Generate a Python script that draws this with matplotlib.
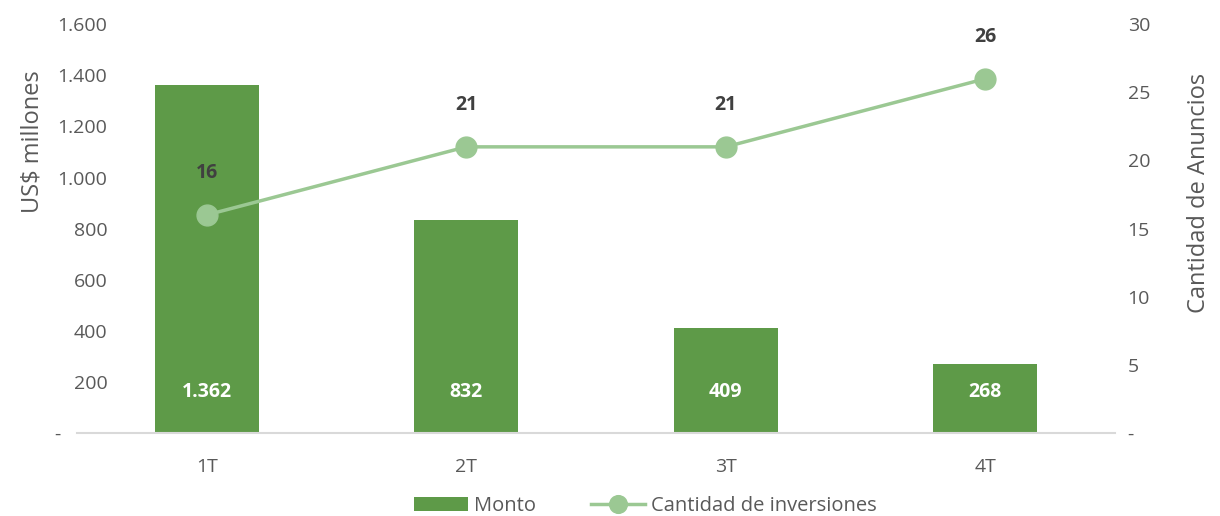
import numpy as np
import matplotlib.pyplot as plt
from matplotlib.ticker import FuncFormatter

plt.rcParams['font.family'] = ['Open Sans', 'DejaVu Sans']

quarters = ['1T', '2T', '3T', '4T']
monto = [1362, 832, 409, 268]
cantidad = [16, 21, 21, 26]

bar_color = '#5e9a48'
line_color = '#9bc893'
text_color = '#595959'

fig = plt.figure(figsize=(12.2, 5.16), dpi=100)
ax = fig.add_axes([0.063, 0.161, 0.851, 0.792])
ax2 = ax.twinx()

x = np.arange(len(quarters))
bars = ax.bar(x, monto, width=0.4, color=bar_color, label='Monto', zorder=2)
line, = ax2.plot(x, cantidad, color=line_color, lw=2.5, marker='o', ms=15,
                 label='Cantidad de inversiones', zorder=3)

ax.set_xlim(-0.5, 3.5)
ax.set_ylim(0, 1600)
ax2.set_ylim(0, 30)
ax.set_yticks(np.arange(0, 1601, 200))
ax2.set_yticks(np.arange(0, 31, 5))

def thousands(v, pos):
    if v == 0:
        return '-         '
    return f'{int(v):,}'.replace(',', '.')

ax.yaxis.set_major_formatter(FuncFormatter(thousands))
ax2.yaxis.set_major_formatter(FuncFormatter(lambda v, p: '-' if v == 0 else f'{int(v)}'))

ax.set_xticks(x)
ax.set_xticklabels(quarters)

for a in (ax, ax2):
    for s in a.spines.values():
        s.set_visible(False)
    a.tick_params(length=0, labelsize=14, colors=text_color)
ax.spines['bottom'].set_visible(True)
ax.spines['bottom'].set_color('#d9d9d9')
ax.spines['bottom'].set_linewidth(1.5)
ax.tick_params(axis='y', pad=-22)
ax.tick_params(axis='x', pad=18)
ax2.tick_params(axis='y', pad=9)

ax.set_ylabel('US$ millones', fontsize=17, color=text_color)
ax2.set_ylabel('Cantidad de Anuncios', fontsize=17, color=text_color)
ax.yaxis.set_label_coords(-0.031, 0.714)
ax2.yaxis.set_label_coords(1.069, 0.587)

for xi, v in zip(x, monto):
    ax.text(xi, 160, f'{v:,}'.replace(',', '.'), ha='center', va='center',
            color='white', fontsize=14, fontweight='bold', zorder=4)

for xi, v in zip(x, cantidad):
    ax2.annotate(str(v), (xi, v), xytext=(0, 30), textcoords='offset points',
                 ha='center', va='center', color='#404040', fontsize=14,
                 fontweight='bold')

handles = [bars, line]
fig.legend(handles, [h.get_label() for h in handles], loc='lower center',
           bbox_to_anchor=(0.529, -0.035), ncol=2, frameon=False, fontsize=14.5,
           labelcolor=text_color, handlelength=2.7, columnspacing=2.7,
           handletextpad=0.3, markerscale=0.85)

fig.savefig('out.png', dpi=100)
